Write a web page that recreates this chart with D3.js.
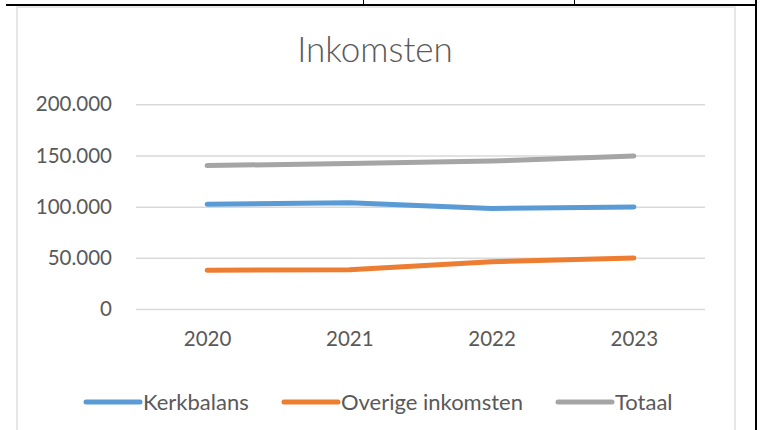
<!DOCTYPE html>
<html>
<head>
<meta charset="utf-8">
<script src="https://cdn.jsdelivr.net/npm/d3@7"></script>
<style>
  html, body { margin: 0; padding: 0; background: #fff; }
  svg { display: block; }
  text { font-family: Lato, "Open Sans", sans-serif; fill: #595959; }
</style>
</head>
<body>
<svg id="chart" width="760" height="430"></svg>
<script>
// ---- data ----
const years = ["2020", "2021", "2022", "2023"];
const kerkbalans = [102300, 103800, 98300, 99700];
const overige = [37800, 38400, 46200, 49800];
const totaal = [140100, 142200, 144500, 149500];
const seriesNames = ["Kerkbalans", "Overige inkomsten", "Totaal"];
const seriesColors = ["#5B9BD5", "#ED7D31", "#A5A5A5"];
const yTicks = [0, 50000, 100000, 150000, 200000];
const title = "Inkomsten";

const seriesValues = [kerkbalans, overige, totaal];

const svg = d3.select("#chart");

// page decorations (document table borders)
svg.append("line").attr("x1", 6).attr("x2", 757).attr("y1", 5).attr("y2", 5)
  .attr("stroke", "#000").attr("stroke-width", 2);
svg.append("line").attr("x1", 363.5).attr("x2", 363.5).attr("y1", 0).attr("y2", 5)
  .attr("stroke", "#000").attr("stroke-width", 1);
svg.append("line").attr("x1", 574.5).attr("x2", 574.5).attr("y1", 0).attr("y2", 5)
  .attr("stroke", "#000").attr("stroke-width", 1);
svg.append("line").attr("x1", 756).attr("x2", 756).attr("y1", 0).attr("y2", 430)
  .attr("stroke", "#000").attr("stroke-width", 2);

// chart frame
svg.append("rect").attr("x", 17).attr("y", 7).attr("width", 718).attr("height", 440)
  .attr("fill", "#fff").attr("stroke", "#D9D9D9").attr("stroke-width", 1.3);

// title
svg.append("text").attr("x", 375).attr("y", 62).attr("text-anchor", "middle")
  .style("font-size", "35px").style("font-weight", 300).text(title);

// scales
const x = d3.scalePoint().domain(years).range([136, 705]).padding(0.5);
const y = d3.scaleLinear().domain([0, 200000]).range([309, 104.3]);

const loc = d3.formatLocale({ decimal: ",", thousands: ".", grouping: [3], currency: ["", ""] });
const fmt = loc.format(",");

// y axis with gridlines
const yAxis = d3.axisLeft(y).tickValues(yTicks).tickFormat(fmt).tickSize(-(705 - 136)).tickPadding(24);
const gy = svg.append("g").attr("transform", "translate(136,0)").call(yAxis);
gy.select(".domain").remove();
gy.selectAll(".tick line").attr("stroke", "#D9D9D9").attr("stroke-width", 1.5);
gy.selectAll(".tick text").style("font-size", "20.5px").attr("fill", "#595959")
  .style("font-family", "Lato, sans-serif");

// x axis labels
const xAxis = d3.axisBottom(x).tickSize(0).tickPadding(22);
const gx = svg.append("g").attr("transform", "translate(0,309)").call(xAxis);
gx.select(".domain").remove();
gx.selectAll(".tick text").style("font-size", "20.5px").attr("fill", "#595959")
  .style("font-family", "Lato, sans-serif");

// lines
const line = d3.line().x((d, i) => x(years[i])).y(d => y(d));
svg.append("g").selectAll("path").data(seriesValues).join("path")
  .attr("d", d => line(d))
  .attr("fill", "none")
  .attr("stroke", (d, i) => seriesColors[i])
  .attr("stroke-width", 5)
  .attr("stroke-linecap", "round")
  .attr("stroke-linejoin", "round");

// legend
const legendX = [86, 284, 558];
const lg = svg.append("g").selectAll("g").data(seriesNames).join("g")
  .attr("transform", (d, i) => `translate(${legendX[i]},402)`);
lg.append("line").attr("x1", 0).attr("x2", 54).attr("y1", 0).attr("y2", 0)
  .attr("stroke", (d, i) => seriesColors[i]).attr("stroke-width", 5).attr("stroke-linecap", "round");
lg.append("text").attr("x", 57).attr("y", 8).style("font-size", "22px").text(d => d);
</script>
</body>
</html>
